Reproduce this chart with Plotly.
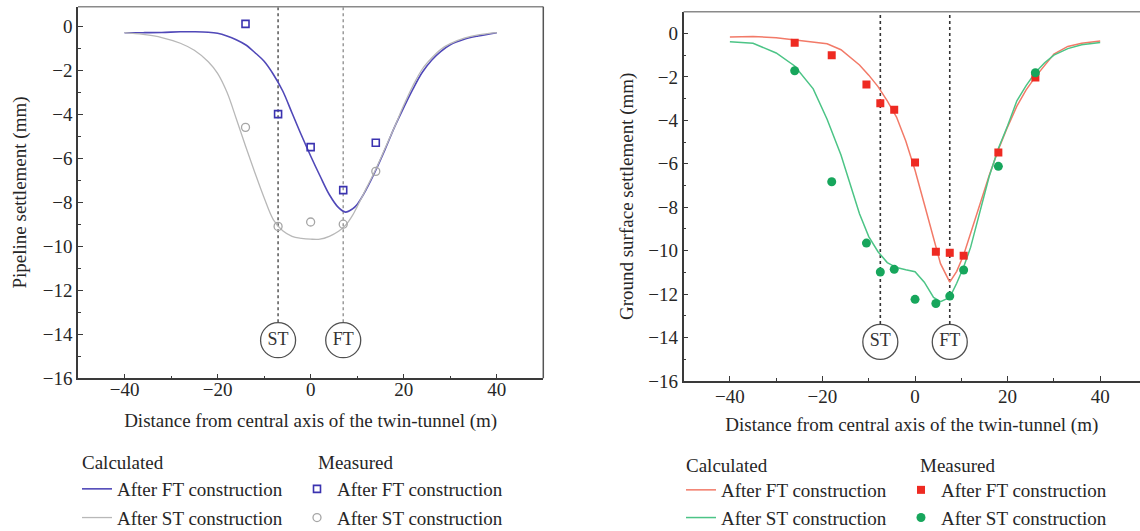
import plotly.graph_objects as go

# ---------------- data ----------------
# Left panel: pipeline settlement
left_meas_x = [-14, -7, 0, 7, 14]
left_meas_ft = [0.1, -4.0, -5.5, -7.45, -5.3]
left_meas_st = [-4.6, -9.1, -8.9, -9.0, -6.6]

left_calc_x = [-40, -36, -32, -28, -25, -22, -20, -18, -16, -14, -12, -10, -8, -6, -4, -2,
               0, 2, 4, 6, 7.5, 9, 10, 12, 14, 16, 18, 20, 22, 24, 26, 28, 30, 33, 36, 40]
left_calc_ft = [-0.30, -0.30, -0.29, -0.26, -0.26, -0.28, -0.33, -0.45, -0.62, -0.85, -1.2, -1.6,
                -2.2, -2.95, -3.95, -4.95, -5.9, -6.8, -7.65, -8.25, -8.45, -8.3, -8.1, -7.4,
                -6.55, -5.6, -4.6, -3.7, -2.85, -2.1, -1.55, -1.15, -0.85, -0.6, -0.45, -0.3]
left_calc_st = [-0.30, -0.38, -0.52, -0.78, -1.1, -1.62, -2.15, -3.0, -4.2, -5.45, -6.65, -7.8,
                -8.8, -9.3, -9.55, -9.64, -9.68, -9.68, -9.55, -9.32, -9.05, -8.6, -8.2, -7.35,
                -6.5, -5.55, -4.6, -3.6, -2.7, -1.95, -1.45, -1.05, -0.8, -0.55, -0.4, -0.3]

# Right panel: ground surface settlement
right_meas_x = [-26, -18, -10.5, -7.5, -4.5, 0, 4.5, 7.5, 10.5, 18, 26]
right_meas_ft = [-0.43, -1.01, -2.35, -3.22, -3.51, -5.94, -10.05, -10.1, -10.23, -5.48, -2.03]
right_meas_st = [-1.72, -6.83, -9.65, -10.98, -10.86, -12.24, -12.43, -12.09, -10.89, -6.12, -1.81]

right_calc_x = [-40, -35, -30, -26, -22, -19, -16, -14, -12, -10, -8, -6, -4, -2, 0, 2, 4, 5.5,
                7.5, 9, 10.5, 12, 14, 16, 18, 20, 22, 24, 26, 28, 30, 33, 36, 40]
right_calc_ft = [-0.17, -0.14, -0.2, -0.3, -0.38, -0.48, -0.75, -1.08, -1.45, -1.92, -2.45, -3.1,
                 -3.85, -4.95, -6.3, -7.85, -9.45, -10.6, -11.45, -10.95, -10.2, -9.2, -7.8,
                 -6.55, -5.35, -4.3, -3.35, -2.6, -2.0, -1.45, -0.95, -0.6, -0.45, -0.35]
right_calc_st = [-0.38, -0.45, -0.9, -1.5, -2.55, -3.95, -5.6, -7.0, -8.3, -9.35, -10.05, -10.55,
                 -10.78, -10.88, -10.97, -11.45, -12.15, -12.35, -12.15, -11.5, -10.75, -9.85,
                 -8.2, -6.6, -5.3, -4.25, -3.1, -2.4, -1.8, -1.35, -1.0, -0.7, -0.52, -0.42]

# Tunnel positions
tunnel_labels = ["ST", "FT"]
left_tunnel_x = [-7, 7]
right_tunnel_x = [-7.5, 7.5]
left_tunnel_y = -14.27
right_tunnel_y = -14.2

x_ticks = [-40, -20, 0, 20, 40]
y_ticks = [-16, -14, -12, -10, -8, -6, -4, -2, 0]

# ---------------- style ----------------
FONT = "Liberation Serif, Times New Roman, serif"
TXT = "#262626"
FS = 19

BLUE_L, BLUE_M = "#5048b8", "#3b33b0"
GRAY_L, GRAY_M = "#b8b8b8", "#a6a6a6"
RED_L, RED_M = "#f27a68", "#ee2a22"
GREEN_L, GREEN_M = "#4cc486", "#17a65c"

W, H = 1140, 531

fig = go.Figure()

# left calculated
fig.add_trace(go.Scatter(x=left_calc_x, y=left_calc_ft, mode="lines", name="After FT construction",
                         line=dict(color=BLUE_L, width=1.6, shape="spline"), legendgroup="a",
                         xaxis="x", yaxis="y", legend="legend"))
fig.add_trace(go.Scatter(x=left_calc_x, y=left_calc_st, mode="lines", name="After ST construction",
                         line=dict(color=GRAY_L, width=1.3, shape="spline"), legendgroup="b",
                         xaxis="x", yaxis="y", legend="legend"))
# left measured
fig.add_trace(go.Scatter(x=left_meas_x, y=left_meas_ft, mode="markers", name="After FT construction",
                         marker=dict(symbol="square-open", size=7, color=BLUE_M, line=dict(width=1.6)),
                         legendgroup="c", xaxis="x", yaxis="y", legend="legend2"))
fig.add_trace(go.Scatter(x=left_meas_x, y=left_meas_st, mode="markers", name="After ST construction",
                         marker=dict(symbol="circle-open", size=8, color=GRAY_M, line=dict(width=1.3)),
                         legendgroup="d", xaxis="x", yaxis="y", legend="legend2"))

# right calculated
fig.add_trace(go.Scatter(x=right_calc_x, y=right_calc_ft, mode="lines", name="After FT construction",
                         line=dict(color=RED_L, width=1.5), legendgroup="e",
                         xaxis="x2", yaxis="y2", legend="legend3"))
fig.add_trace(go.Scatter(x=right_calc_x, y=right_calc_st, mode="lines", name="After ST construction",
                         line=dict(color=GREEN_L, width=1.5), legendgroup="f",
                         xaxis="x2", yaxis="y2", legend="legend3"))
# right measured
fig.add_trace(go.Scatter(x=right_meas_x, y=right_meas_ft, mode="markers", name="After FT construction",
                         marker=dict(symbol="square", size=8, color=RED_M), legendgroup="g",
                         xaxis="x2", yaxis="y2", legend="legend4"))
fig.add_trace(go.Scatter(x=right_meas_x, y=right_meas_st, mode="markers", name="After ST construction",
                         marker=dict(symbol="circle", size=9, color=GREEN_M), legendgroup="h",
                         xaxis="x2", yaxis="y2", legend="legend4"))

# tunnel circles
for xs, yv, xa, ya in [(left_tunnel_x, left_tunnel_y, "x", "y"),
                       (right_tunnel_x, right_tunnel_y, "x2", "y2")]:
    fig.add_trace(go.Scatter(x=xs, y=[yv] * len(xs), mode="markers+text", text=tunnel_labels,
                             textposition="middle center",
                             textfont=dict(family=FONT, size=18, color="#333333"),
                             marker=dict(symbol="circle", size=35, color="white",
                                         line=dict(color="#505050", width=1.3)),
                             showlegend=False, hoverinfo="skip", xaxis=xa, yaxis=ya))

# dotted tunnel axes (below traces)
shapes = []
for xv, col in zip(left_tunnel_x, ["#555555", "#999999"]):
    shapes.append(dict(type="line", xref="x", yref="y", x0=xv, x1=xv, y0=left_tunnel_y, y1=0.88,
                       line=dict(color=col, width=1.5, dash="dot"), layer="below"))
for xv in right_tunnel_x:
    shapes.append(dict(type="line", xref="x2", yref="y2", x0=xv, x1=xv, y0=right_tunnel_y, y1=1.0,
                       line=dict(color="#333333", width=1.6, dash="dot"), layer="below"))
# frame lines (top/right) in lighter gray
shapes.append(dict(type="line", xref="x domain", yref="y domain", x0=0, x1=1, y0=1, y1=1,
                   line=dict(color="#8a8a8a", width=1.5)))
shapes.append(dict(type="line", xref="x domain", yref="y domain", x0=1, x1=1, y0=0, y1=1,
                   line=dict(color="#555555", width=1.5)))
shapes.append(dict(type="line", xref="x2 domain", yref="y2 domain", x0=0, x1=1, y0=1, y1=1,
                   line=dict(color="#8a8a8a", width=1.5)))

axis_common = dict(showgrid=False, zeroline=False, showline=True, linecolor="#3a3a3a", linewidth=1.5,
                   ticks="inside", ticklen=5, tickwidth=1.2, tickcolor="#3a3a3a",
                   tickfont=dict(family=FONT, size=FS, color=TXT), automargin=False)

xtitle = "Distance from central axis of the twin-tunnel (m)"
tfont = dict(family=FONT, size=FS, color=TXT)

leg_common = dict(font=tfont, bgcolor="rgba(0,0,0,0)",
                  xanchor="left", yanchor="top", itemclick=False, itemdoubleclick=False,
                  orientation="v")

# legend headings
annotations = []
for txt, xp, yp in [("Calculated", 80, 462), ("Measured", 316, 462),
                    ("Calculated", 684, 465), ("Measured", 918, 465)]:
    annotations.append(dict(text=txt, xref="paper", yref="paper", x=xp / W, y=(H - yp) / H,
                            xanchor="left", yanchor="middle", showarrow=False, font=tfont))

fig.update_layout(
    width=W, height=H,
    margin=dict(l=0, r=0, t=0, b=0, autoexpand=False),
    paper_bgcolor="white", plot_bgcolor="white",
    font=tfont,
    xaxis=dict(domain=[78 / W, 543.3 / W], range=[-50, 50], anchor="y",
               tickvals=x_ticks, minor=dict(ticks="inside", ticklen=3, dtick=10, tick0=0,
                                            tickcolor="#3a3a3a"),
               ticklabelstandoff=-7,
               title=dict(text=xtitle, font=tfont, standoff=15),
               **axis_common),
    yaxis=dict(domain=[(H - 378.3) / H, (H - 6.7) / H], range=[-16, 0.88], anchor="x",
               tickvals=y_ticks, minor=dict(ticks="inside", ticklen=3, dtick=1, tick0=0,
                                            tickcolor="#3a3a3a"),
               title=dict(text="Pipeline settlement (mm)", font=tfont, standoff=11),
               **axis_common),
    xaxis2=dict(domain=[683.6 / W, 1.0], range=[-50, 48.6], anchor="y2",
                tickvals=x_ticks, minor=dict(ticks="inside", ticklen=3, dtick=10, tick0=0,
                                             tickcolor="#3a3a3a"),
                ticklabelstandoff=-3,
                title=dict(text=xtitle, font=tfont, standoff=12),
                **axis_common),
    yaxis2=dict(domain=[(H - 381) / H, (H - 11.7) / H], range=[-16, 1.0], anchor="x2",
                tickvals=y_ticks, minor=dict(ticks="inside", ticklen=3, dtick=1, tick0=0,
                                             tickcolor="#3a3a3a"),
                title=dict(text="Ground surface settlement (mm)", font=tfont, standoff=10),
                **axis_common),
    shapes=shapes,
    annotations=annotations,
    legend=dict(x=77 / W, y=(H - 470) / H, tracegroupgap=1, **leg_common),
    legend2=dict(x=297 / W, y=(H - 470) / H, tracegroupgap=1, **leg_common),
    legend3=dict(x=681 / W, y=(H - 471) / H, tracegroupgap=0, **leg_common),
    legend4=dict(x=901 / W, y=(H - 471) / H, tracegroupgap=0, **leg_common),
    showlegend=True,
)

fig.write_html("out.html")
